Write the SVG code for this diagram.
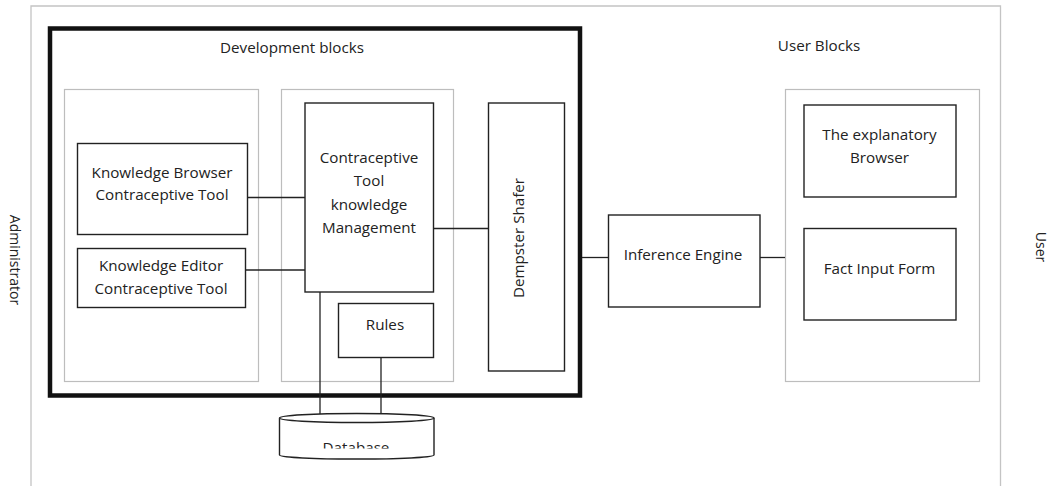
<svg xmlns="http://www.w3.org/2000/svg" width="1051" height="486" viewBox="0 0 1051 486">
<style>
text{font-family:"Open Sans","Noto Sans","Liberation Sans",sans-serif;font-size:15.2px;fill:#222;text-anchor:middle}
text.side{font-size:14px}
.panel{fill:none;stroke:#bdbdbd;stroke-width:1.2}
.box{fill:#fff;stroke:#222;stroke-width:1.4}
.conn line{stroke:#222;stroke-width:1.3}
</style>
<defs><clipPath id="dbclip"><rect x="270" y="400" width="170" height="48.5"/></clipPath></defs>
<rect width="1051" height="486" fill="#fff"/>
<g id="frame">
<path d="M31,490 V6 H1000.5 V490" fill="none" stroke="#c4c4c4" stroke-width="1.3"/>
<text class="side" transform="translate(9.5,260) rotate(90)">Administrator</text>
<text class="side" transform="translate(1036,247) rotate(90)">User</text>
</g>
<g id="development-blocks">
<rect x="50" y="28.5" width="530" height="367" fill="none" stroke="#111" stroke-width="4.5"/>
<text x="292" y="52.5">Development blocks</text>
</g>
<g id="panel-left"><rect class="panel" x="64.5" y="89.5" width="194" height="292"/></g>
<g id="panel-middle"><rect class="panel" x="281.5" y="89.5" width="172" height="292"/></g>
<g id="user-blocks">
<rect class="panel" x="785.5" y="89.5" width="194" height="292"/>
<text x="819" y="50.5">User Blocks</text>
</g>
<g class="conn" id="connectors">
<line x1="247" y1="197.5" x2="305" y2="197.5"/>
<line x1="245" y1="270" x2="305" y2="270"/>
<line x1="433" y1="228.5" x2="488" y2="228.5"/>
<line x1="582" y1="257.5" x2="608" y2="257.5"/>
<line x1="760" y1="257.5" x2="785" y2="257.5"/>
<line x1="320" y1="292" x2="320" y2="414"/>
<line x1="381" y1="357.5" x2="381" y2="414"/>
</g>
<g id="knowledge-browser">
<rect class="box" x="77.5" y="143.5" width="170" height="91"/>
<text x="162" y="177.5">Knowledge Browser</text>
<text x="162" y="200">Contraceptive Tool</text>
</g>
<g id="knowledge-editor">
<rect class="box" x="77.5" y="248.5" width="168" height="59"/>
<text x="161" y="271">Knowledge Editor</text>
<text x="161" y="293.5">Contraceptive Tool</text>
</g>
<g id="knowledge-management">
<rect class="box" x="305" y="103" width="128.5" height="189"/>
<text x="369" y="162.5">Contraceptive</text>
<text x="369" y="186">Tool</text>
<text x="369" y="209.5">knowledge</text>
<text x="369" y="232.5">Management</text>
</g>
<g id="rules">
<rect class="box" x="338.5" y="303.5" width="95" height="54"/>
<text x="385" y="329.5">Rules</text>
</g>
<g id="dempster-shafer">
<rect class="box" x="488.5" y="103" width="76" height="268"/>
<text transform="translate(523.5,238) rotate(-90)">Dempster Shafer</text>
</g>
<g id="inference-engine">
<rect class="box" x="608.5" y="215" width="151.5" height="92"/>
<text x="683" y="260">Inference Engine</text>
</g>
<g id="explanatory-browser">
<rect class="box" x="804" y="105" width="152" height="92"/>
<text x="879.5" y="140">The explanatory</text>
<text x="879.5" y="162.5">Browser</text>
</g>
<g id="fact-input-form">
<rect class="box" x="804" y="228.5" width="152" height="91.5"/>
<text x="879.5" y="273.5">Fact Input Form</text>
</g>
<g id="database">
<path class="box" d="M279.5,418 V455 A77.25,4 0 0 0 434,455 V418"/>
<ellipse class="box" cx="356.75" cy="418" rx="77.25" ry="4.5"/>
<text x="356" y="452.5" clip-path="url(#dbclip)">Database</text>
</g>
</svg>
